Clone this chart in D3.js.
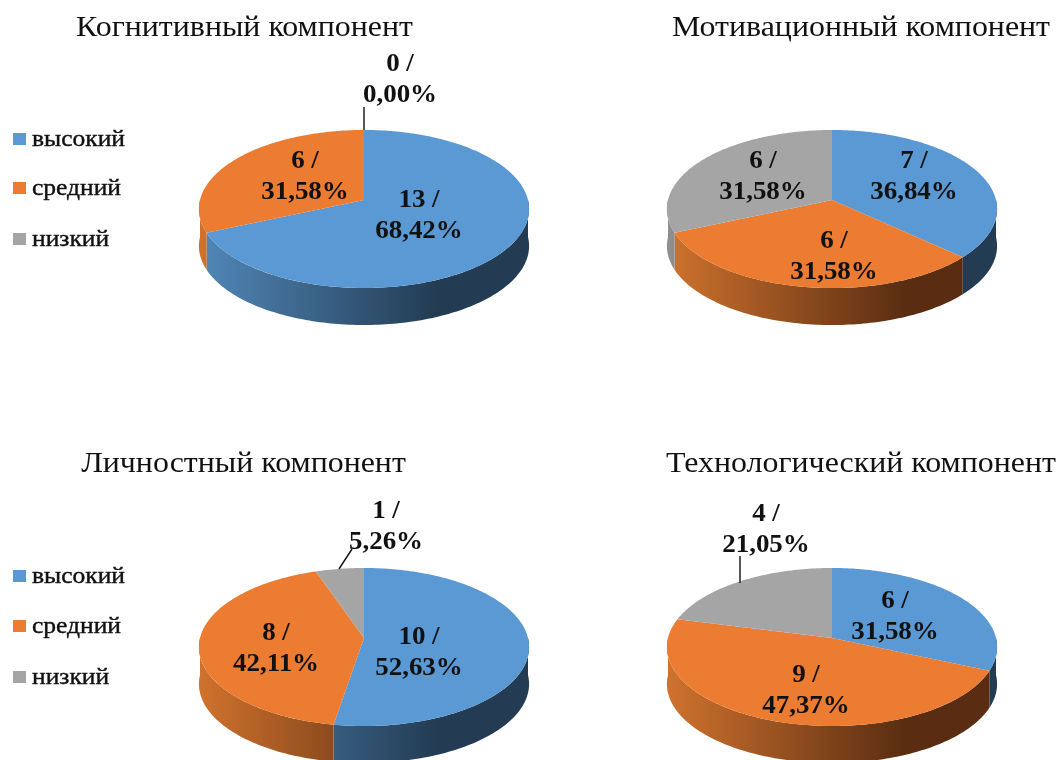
<!DOCTYPE html>
<html>
<head>
<meta charset="utf-8">
<script src="https://cdn.jsdelivr.net/npm/d3@7"></script>
<style>
html, body { margin: 0; padding: 0; background: #fff; }
svg { display: block; filter: blur(0.6px); }
text { font-family: "Liberation Serif", serif; fill: #111; }
</style>
</head>
<body>
<div id="grafico"></div>
<script>
const levels = ["высокий", "средний", "низкий"];
const titles = ["Когнитивный компонент", "Мотивационный компонент", "Личностный компонент", "Технологический компонент"];
const cognitive = [13, 6, 0];
const motivational = [7, 6, 6];
const personal = [10, 8, 1];
const technological = [6, 9, 4];
const percentLabels = [
    ["68,42%", "31,58%", "0,00%"],
    ["36,84%", "31,58%", "31,58%"],
    ["52,63%", "42,11%", "5,26%"],
    ["31,58%", "47,37%", "21,05%"]
];

// layout, kept apart from the values
const width = 1058;
const height = 760;
const colors = ["#5a99d4", "#eb7c31", "#a5a5a5"];
const sideLeft = ["#5187b8", "#cf722d", "#8f8f8f"];
const sideRight = ["#233c53", "#5a2d12", "#404040"];
const radius = 164;
const depth = 37;
const tilt = 78;
const persp = 0.114;
const charts = [
    { cx: 364, cy: 200, titleX: 244.5, titleY: 36, legendY: [139, 188, 239],
      labels: [[419, 199], [305, 160], [400, 63]], leader: [[364, 130], [364, 107]] },
    { cx: 832, cy: 200, titleX: 861, titleY: 36,
      labels: [[914, 160], [834, 240], [763, 160]] },
    { cx: 364, cy: 638, titleX: 243.5, titleY: 472, legendY: [576, 626, 677],
      labels: [[419, 636], [276, 632], [386, 510]], leader: [[339, 569], [352, 549]] },
    { cx: 832, cy: 638, titleX: 861, titleY: 472,
      labels: [[895, 600], [806, 674], [766, 513]], leader: [[740, 583], [740, 556]] }
];
const seriesList = [cognitive, motivational, personal, technological];

const svg = d3.select("#grafico")
    .append("svg")
    .attr("width", width)
    .attr("height", height);
const defs = svg.append("defs");

// angle clockwise from 12 o'clock -> screen point on a tilted disc
function project(c, angle, drop) {
    const X = Math.sin(angle);
    const Y = -Math.cos(angle);
    const w = 1 - persp * Y;
    return [c.cx + radius * X / w, c.cy + tilt * Y / w + (drop || 0)];
}

const pie = d3.pie().sort(null).startAngle(0).endAngle(2 * Math.PI);
const line = d3.line();

function arcPoints(c, a0, a1, drop) {
    const n = Math.max(2, Math.ceil((a1 - a0) / 0.02));
    return d3.range(n + 1).map(i => project(c, a0 + (a1 - a0) * i / n, drop));
}

seriesList.forEach((series, k) => {
    const c = charts[k];
    const g = svg.append("g");
    const slices = pie(series);

    // side wall: only the part of each slice facing the viewer
    slices.forEach((d, i) => {
        const a0 = Math.max(d.startAngle, Math.PI / 2);
        const a1 = Math.min(d.endAngle, 3 * Math.PI / 2);
        if (a1 <= a0) return;
        const top = arcPoints(c, a0, a1, 0);
        const bottom = arcPoints(c, a0, a1, depth).reverse();
        const id = `side-${k}-${i}`;
        // the shading runs over the width of the whole pie, not the slice
        const grad = defs.append("linearGradient")
            .attr("id", id)
            .attr("gradientUnits", "userSpaceOnUse")
            .attr("x1", c.cx - radius).attr("x2", c.cx + radius)
            .attr("y1", 0).attr("y2", 0);
        grad.append("stop").attr("offset", 0).attr("stop-color", sideLeft[i]);
        grad.append("stop").attr("offset", 0.72).attr("stop-color", sideRight[i]);
        g.append("path")
            .attr("d", line(top.concat(bottom)) + "Z")
            .attr("fill", `url(#${id})`);
    });

    // top face
    g.selectAll("path.slice")
        .data(slices.filter(d => d.value > 0))
        .enter()
        .append("path")
        .attr("class", "slice")
        .attr("d", d => line([[c.cx, c.cy]].concat(arcPoints(c, d.startAngle, d.endAngle, 0))) + "Z")
        .attr("fill", d => colors[d.index]);

    if (c.leader) {
        g.append("path")
            .attr("d", line(c.leader))
            .attr("fill", "none")
            .attr("stroke", "#111")
            .attr("stroke-width", 1.4);
    }

    g.append("text")
        .attr("transform", `translate(${c.titleX},${c.titleY}) scale(1.1,1)`)
        .attr("text-anchor", "middle")
        .attr("font-size", 29)
        .text(titles[k]);

    series.forEach((v, i) => {
        const [lx, ly] = c.labels[i];
        const t = g.append("text")
            .attr("transform", `translate(${lx},${ly}) scale(1.08,1)`)
            .attr("text-anchor", "middle")
            .attr("font-size", 25)
            .attr("font-weight", "bold");
        t.append("tspan").attr("x", 0).attr("y", 8).text(`${v} /`);
        t.append("tspan").attr("x", 0).attr("y", 39).text(percentLabels[k][i]);
    });

    if (c.legendY) {
        levels.forEach((name, i) => {
            g.append("rect")
                .attr("x", 13)
                .attr("y", c.legendY[i] - 6)
                .attr("width", 13)
                .attr("height", 12)
                .attr("fill", colors[i]);
            g.append("text")
                .attr("transform", `translate(32,${c.legendY[i] + 7}) scale(1.11,1)`)
                .attr("font-size", 23)
                .attr("stroke", "#111")
                .attr("stroke-width", 0.4)
                .text(name);
        });
    }
});
</script>
</body>
</html>
